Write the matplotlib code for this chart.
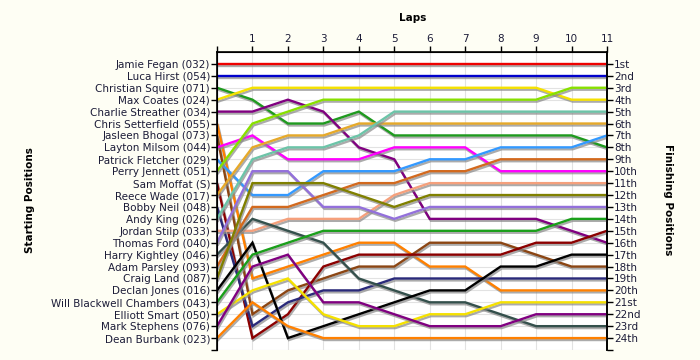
import matplotlib
matplotlib.use('Agg')
import matplotlib.pyplot as plt
import matplotlib.patheffects as pe

laps = list(range(0, 12))

drivers = ['Jamie Fegan (032)', 'Luca Hirst (054)', 'Christian Squire (071)', 'Max Coates (024)',
           'Charlie Streather (034)', 'Chris Setterfield (055)', 'Jasleen Bhogal (073)',
           'Layton Milsom (044)', 'Patrick Fletcher (029)', 'Perry Jennett (051)', 'Sam Moffat (S)',
           'Reece Wade (017)', 'Bobby Neil (048)', 'Andy King (026)', 'Jordan Stilp (033)',
           'Thomas Ford (040)', 'Harry Kightley (046)', 'Adam Parsley (093)', 'Craig Land (087)',
           'Declan Jones (016)', 'Will Blackwell Chambers (043)', 'Elliott Smart (050)',
           'Mark Stephens (076)', 'Dean Burbank (023)']

finish_labels = ['1st', '2nd', '3rd', '4th', '5th', '6th', '7th', '8th', '9th', '10th', '11th', '12th',
                 '13th', '14th', '15th', '16th', '17th', '18th', '19th', '20th', '21st', '22nd', '23rd', '24th']

# position of each driver at lap 0 (start) .. lap 11
positions = [
    [1, 1, 1, 1, 1, 1, 1, 1, 1, 1, 1, 1],
    [2, 2, 2, 2, 2, 2, 2, 2, 2, 2, 2, 2],
    [3, 4, 6, 6, 5, 7, 7, 7, 7, 7, 7, 8],
    [4, 3, 3, 3, 3, 3, 3, 3, 3, 3, 4, 4],
    [5, 5, 4, 5, 8, 9, 14, 14, 14, 14, 15, 16],
    [6, 19, 18, 17, 16, 16, 18, 18, 20, 20, 20, 20],
    [7, 22, 20, 19, 18, 18, 16, 16, 16, 17, 18, 18],
    [8, 7, 9, 9, 9, 8, 8, 8, 10, 10, 10, 10],
    [9, 12, 12, 10, 10, 10, 9, 9, 8, 8, 8, 7],
    [10, 6, 5, 4, 4, 4, 4, 4, 4, 4, 3, 3],
    [11, 24, 22, 18, 17, 17, 17, 17, 17, 16, 16, 15],
    [12, 8, 7, 7, 6, 6, 6, 6, 6, 6, 6, 6],
    [13, 23, 21, 20, 20, 19, 19, 19, 19, 19, 19, 19],
    [14, 9, 8, 8, 7, 5, 5, 5, 5, 5, 5, 5],
    [15, 15, 14, 14, 14, 12, 11, 11, 11, 11, 11, 11],
    [16, 10, 10, 13, 13, 14, 13, 13, 13, 13, 13, 13],
    [17, 14, 15, 16, 19, 20, 21, 21, 22, 23, 23, 23],
    [18, 13, 13, 12, 11, 11, 10, 10, 9, 9, 9, 9],
    [19, 11, 11, 11, 12, 13, 12, 12, 12, 12, 12, 12],
    [20, 16, 24, 23, 22, 21, 20, 20, 18, 18, 17, 17],
    [21, 17, 16, 15, 15, 15, 15, 15, 15, 15, 14, 14],
    [22, 20, 19, 22, 23, 23, 22, 22, 21, 21, 21, 21],
    [23, 18, 17, 21, 21, 22, 23, 23, 23, 22, 22, 22],
    [24, 21, 23, 24, 24, 24, 24, 24, 24, 24, 24, 24],
]

colors = ['#ee0000', '#0000cc', '#1f9a1f', '#f5e100', '#800080', '#ff8000', '#8b4513', '#ff00ff',
          '#3399ff', '#88e000', '#8b0000', '#e6a92a', '#2a2a7a', '#6cc4a8', '#f5a07c', '#9370db',
          '#34504c', '#d2691e', '#808000', '#000000', '#1a9f1a', '#f5e100', '#800080', '#ff8000']

plt.rcParams['font.family'] = 'DejaVu Sans'
txt = '#1c1c38'

fig = plt.figure(figsize=(7, 3.6), dpi=100, facecolor='#fefef4')
ax = fig.add_axes([217 / 700, 1 - 350 / 360, 390 / 700, 298 / 360])
ax.set_facecolor('white')

shadow = [pe.SimpleLineShadow(offset=(0.8, -1.4), shadow_color='#888888', alpha=0.7), pe.Normal()]
for pos, c in zip(positions, colors):
    ax.plot(laps, pos, color=c, lw=1.7, solid_joinstyle='miter', path_effects=shadow, zorder=3)

ax.set_xlim(0, 11)
ax.set_ylim(25, 0)
ax.grid(True, color='#e2e2e2', lw=0.8, zorder=0)
ax.set_axisbelow(True)

ax.xaxis.tick_top()
ax.set_xticks(laps)
ax.set_xticklabels([''] + [str(i) for i in laps[1:]])
ax.set_yticks(range(1, 26))
ax.set_yticklabels(drivers + [''])
ax.tick_params(axis='x', length=4, width=1, pad=2, labelsize=7.5, colors='black', labelcolor=txt)
ax.tick_params(axis='y', length=4, width=1, pad=1, labelsize=7.5, labelcolor=txt)

ax.spines['bottom'].set_visible(False)
for s in ['left', 'top', 'right']:
    ax.spines[s].set_linewidth(1.2)

ax2 = ax.twinx()
ax2.set_ylim(25, 0)
ax2.set_yticks(range(1, 26))
ax2.set_yticklabels(finish_labels + [''])
ax2.tick_params(axis='y', length=4, width=1, pad=1, labelsize=7.5, labelcolor=txt)
ax2.spines['bottom'].set_visible(False)
ax2.spines['right'].set_linewidth(1.2)

fig.text(413 / 700, 1 - 18 / 360, 'Laps', ha='center', va='center', fontsize=7.5, fontweight='bold')
fig.text(30 / 700, 1 - 200 / 360, 'Starting Positions', ha='center', va='center', rotation=90,
         fontsize=7.5, fontweight='bold')
fig.text(668 / 700, 1 - 200 / 360, 'Finishing Positions', ha='center', va='center', rotation=270,
         fontsize=7.5, fontweight='bold')

fig.savefig('out.png', dpi=100, facecolor=fig.get_facecolor())
